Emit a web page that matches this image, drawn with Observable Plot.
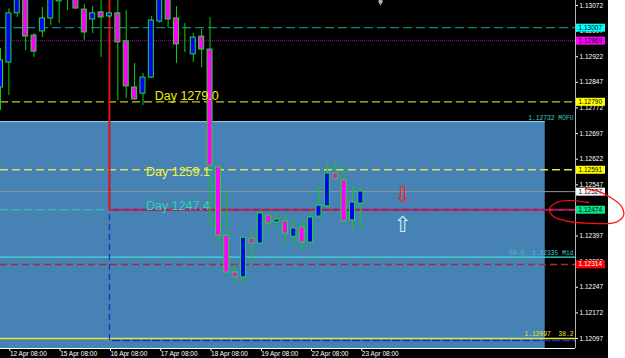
<!DOCTYPE html>
<html><head><meta charset="utf-8">
<script src="https://cdn.jsdelivr.net/npm/d3@7"></script>
<script src="https://cdn.jsdelivr.net/npm/@observablehq/plot@0.6"></script>
<style>
html,body{margin:0;padding:0;background:#fff;overflow:hidden}
#chart svg{display:block;overflow:visible}
</style></head>
<body><div id="chart"></div>
<script>
// ---- data (EURUSD H4) ----
const candleOpen  = [1.12832,1.12905,1.13049,1.13098,1.12984,1.12996,1.13034,1.13084,1.13120,1.13105,1.13060,1.13031,1.13052,1.13040,1.13049,1.12967,1.12832,1.12814,1.12861,1.13025,1.13090,1.13034,1.12961,1.12929,1.12981,1.12943,1.12598,1.12398,1.12290,1.12276,1.12389,1.12375,1.12457,1.12437,1.12440,1.12395,1.12422,1.12378,1.12454,1.12484,1.12580,1.12560,1.12443,1.12492];
const candleHigh  = [1.12946,1.13062,1.13115,1.13110,1.12990,1.13066,1.13105,1.13125,1.13140,1.13115,1.13075,1.13069,1.13095,1.13052,1.13095,1.13057,1.12902,1.12873,1.13040,1.13110,1.13100,1.13069,1.13019,1.12990,1.13002,1.13037,1.12609,1.12533,1.12319,1.12398,1.12419,1.12470,1.12466,1.12466,1.12463,1.12448,1.12443,1.12466,1.12542,1.12612,1.12612,1.12598,1.12545,1.12536];
const candleLow   = [1.12765,1.12808,1.13037,1.12940,1.12920,1.12978,1.13013,1.13019,1.13057,1.13063,1.12970,1.12990,1.12920,1.13034,1.12794,1.12800,1.12794,1.12779,1.12858,1.13020,1.13005,1.12902,1.12934,1.12905,1.12890,1.12422,1.12375,1.12284,1.12258,1.12252,1.12317,1.12370,1.12419,1.12419,1.12366,1.12366,1.12354,1.12366,1.12451,1.12478,1.12560,1.12437,1.12413,1.12416];
const candleClose = [1.12911,1.13049,1.13100,1.12981,1.12937,1.13034,1.13092,1.13110,1.13095,1.13063,1.12993,1.13049,1.13037,1.13049,1.12964,1.12835,1.12797,1.12861,1.13028,1.13095,1.13031,1.12958,1.12961,1.12978,1.12943,1.12603,1.12398,1.12290,1.12276,1.12392,1.12375,1.12463,1.12434,1.12445,1.12404,1.12419,1.12378,1.12451,1.12486,1.12580,1.12563,1.12440,1.12495,1.12527];

const dateTicks  = [1, 7, 13, 19, 25, 31, 37, 43];
const dateLabels = ["12 Apr 08:00","15 Apr 08:00","16 Apr 08:00","17 Apr 08:00","18 Apr 08:00","19 Apr 08:00","22 Apr 08:00","23 Apr 08:00"];
const priceTicks = [1.13072,1.12997,1.12922,1.12847,1.12772,1.12697,1.12622,1.12547,1.12472,1.12397,1.12322,1.12247,1.12172,1.12097];

// levels
const levelTeal = 1.13007, levelPurple = 1.12969, levelDay1279 = 1.12790, levelMofu = 1.12732;
const levelDay1259 = 1.12591, levelCurrent = 1.12527, levelDay1247 = 1.12474;
const levelMid = 1.12335, levelRed = 1.12314, levelFib382 = 1.12097, levelBase = 1.12091;
const boxEndIndex = 65.0;       // end of range box (candle index)
const markerIndex = 13;         // vertical marker at 16 Apr 08:00
const dayLabelIndex = [18.4, 17.36, 17.36];
const dayLabels = ["Day 1279.0", "Day 1259.1", "Day 1247.4"];
const arrowIndex = 47.97, arrowDownPrice = 1.12517, arrowUpPrice = 1.12429;
const topMarkIndex = 45.35, topMarkPrice = 1.13084;
// hand-drawn circle annotation (index, price)
const circleIdx   = [70.17,68.02,66.35,65.51,65.99,67.78,70.64,73.39,74.34,74.10,72.79,71.12,69.81];
const circlePrice = [1.12495,1.12501,1.12495,1.12475,1.12454,1.12440,1.12434,1.12437,1.12457,1.12484,1.12510,1.12530,1.12536];

// ---- layout ----
const W = 608, H = 358, mR = 33, mB = 10;
const xMax = 68.61, yMin = 1.120677, yMax = 1.130866;
const pxPerIdx = (W - mR) / xMax;
const tagW = 29 / pxPerIdx;

const candles = candleOpen.map((o, i) => ({i, o, h: candleHigh[i], l: candleLow[i], c: candleClose[i]}));
const circle = circleIdx.map((x, k) => ({x, p: circlePrice[k]}));
const fmt = d3.format(".5f");

function tag(p, bg, fg) {
  return [
    Plot.ruleY([p], {x1: xMax, x2: xMax + tagW, dx: 1, stroke: bg, strokeWidth: 8}),
    Plot.text([p], {x: xMax, y: d => d, text: d => fmt(d), dx: 3, textAnchor: "start", fill: fg, fontSize: 6.5})
  ];
}

const chart = Plot.plot({
  width: W, height: H,
  marginLeft: 0, marginRight: mR, marginTop: 0, marginBottom: mB,
  style: {background: "black", color: "white", fontFamily: "Liberation Sans, Arial, sans-serif"},
  x: {domain: [0, xMax], axis: null},
  y: {domain: [yMin, yMax], axis: null},
  marks: [
    // range box
    Plot.rect([0], {x1: -2, x2: boxEndIndex, y1: levelMofu, y2: yMin, fill: "#4682b4", clip: true}),
    Plot.ruleY([levelMofu], {x1: -2, x2: boxEndIndex, stroke: "#8fd3f4", clip: true}),
    // horizontal levels
    Plot.ruleY([levelTeal], {stroke: "#0a8a8a", strokeWidth: 1.3, strokeDasharray: "9,4"}),
    Plot.ruleY([levelPurple], {stroke: "#8b008b", strokeWidth: 1.3, strokeDasharray: "1,1"}),
    Plot.ruleY([levelDay1279], {stroke: "#c8c820", strokeWidth: 1.3, strokeDasharray: "8,4"}),
    Plot.ruleY([levelDay1259], {stroke: "#e0e050", strokeWidth: 1.3, strokeDasharray: "8,4"}),
    Plot.ruleY([levelCurrent], {stroke: "#8e98a0", strokeWidth: 1}),
    Plot.ruleY([levelMid], {stroke: "#40e0d0", strokeWidth: 1.2}),
    Plot.ruleY([levelRed], {stroke: "#a8283c", strokeWidth: 1.5, strokeDasharray: "7,4"}),
    Plot.ruleY([levelFib382], {stroke: "#e8e830", strokeWidth: 1.5}),
    Plot.ruleY([levelBase], {x1: markerIndex + 0.4, x2: xMax, stroke: "#1530d0", strokeWidth: 1.5, strokeDasharray: "8,2"}),
    Plot.ruleY([levelDay1247], {x1: 0, x2: markerIndex, stroke: "#30d0b0", strokeWidth: 1.2, strokeDasharray: "8,4"}),
    Plot.ruleY([levelDay1247], {x1: markerIndex, x2: xMax, stroke: "#a0186e", strokeWidth: 2}),
    Plot.ruleY([levelDay1247], {x1: markerIndex, x2: xMax, stroke: "#ff1a1a", strokeWidth: 1.5, strokeDasharray: "4,6"}),
    Plot.ruleX([markerIndex], {y1: levelDay1247, y2: yMax, stroke: "#e01010", strokeWidth: 2}),
    Plot.ruleX([markerIndex], {y1: levelBase, y2: levelDay1247, stroke: "#1535c8", strokeWidth: 1.3, strokeDasharray: "6,4"}),
    // candles
    Plot.ruleX(candles, {x: "i", y1: "l", y2: "h", stroke: "#10cc10", strokeWidth: 1, clip: true}),
    Plot.rect(candles, {x1: d => d.i - 0.3, x2: d => d.i + 0.3, y1: "o", y2: "c",
      fill: d => d.c >= d.o ? "#0000ff" : "#ff00ff", stroke: "#20e020", strokeWidth: 1, clip: true}),
    // day texts
    Plot.text([0], {x: dayLabelIndex[0], y: levelDay1279, text: () => dayLabels[0], dy: -2, lineAnchor: "bottom", textAnchor: "start", fill: "#f0f000", fontSize: 12.5}),
    Plot.text([0], {x: dayLabelIndex[1], y: levelDay1259, text: () => dayLabels[1], dy: 6, lineAnchor: "bottom", textAnchor: "start", fill: "#f0f040", fontSize: 12.5}),
    Plot.text([0], {x: dayLabelIndex[2], y: levelDay1247, text: () => dayLabels[2], dy: 0, lineAnchor: "bottom", textAnchor: "start", fill: "#30d8a8", fontSize: 12.5}),
    // object labels
    Plot.text([levelMofu], {x: xMax, y: d => d, text: d => fmt(d) + " MOFU", dx: -2, dy: -2, lineAnchor: "bottom", textAnchor: "end", fill: "#3cc8c8", fontSize: 6.3, fontFamily: "Liberation Mono, DejaVu Sans Mono, monospace"}),
    Plot.text([levelMid], {x: xMax, y: d => d, text: d => "50.0  " + fmt(d) + " Mid", dx: -2, dy: -2, lineAnchor: "bottom", textAnchor: "end", fill: "#3cc8c8", fontSize: 6.3, fontFamily: "Liberation Mono, DejaVu Sans Mono, monospace"}),
    Plot.text([levelFib382], {x: xMax, y: d => d, text: d => fmt(d) + "  38.2", dx: -2, dy: -2, lineAnchor: "bottom", textAnchor: "end", fill: "#e8e830", fontSize: 6.3, fontFamily: "Liberation Mono, DejaVu Sans Mono, monospace"}),
    // arrows
    Plot.text([0], {x: arrowIndex, y: arrowDownPrice, text: () => "⇩", fill: "#ff2020", fontSize: 22, fontFamily: "DejaVu Sans"}),
    Plot.text([0], {x: arrowIndex, y: arrowUpPrice, text: () => "⇧", fill: "#c8f0ff", fontSize: 22, fontFamily: "DejaVu Sans"}),
    Plot.dot([0], {x: topMarkIndex, y: topMarkPrice, r: 2.5, fill: "#a8b0c0", symbol: "diamond", clip: true}),
    // frame lines
    Plot.ruleY([yMin], {stroke: "white", strokeWidth: 1}),
    Plot.ruleX([xMax], {stroke: "#b0b0b0", strokeWidth: 1}),
    // axes
    Plot.axisY({anchor: "right", ticks: priceTicks, tickFormat: fmt, tickSize: 2, tickPadding: 2, fontSize: 6.5}),
    Plot.axisX({anchor: "bottom", ticks: dateTicks, tickFormat: d => dateLabels[dateTicks.indexOf(d)], tickSize: 3, tickPadding: 0, textAnchor: "start", dx: 1, fontSize: 6.5}),
    // price tags
    ...tag(levelTeal, "#00ffff", "black"),
    ...tag(levelPurple, "#ff00ff", "black"),
    ...tag(levelDay1279, "#ffff00", "black"),
    ...tag(levelDay1259, "#ffff00", "black"),
    ...tag(levelCurrent, "#ffffff", "black"),
    ...tag(levelDay1247, "#00e68a", "black"),
    ...tag(levelRed, "#ff0000", "white"),
    // hand-drawn annotation
    Plot.line(circle, {x: "x", y: "p", curve: "catmull-rom", stroke: "#ff1010", strokeWidth: 1.2})
  ]
});
document.getElementById("chart").appendChild(chart);
</script>
</body></html>
